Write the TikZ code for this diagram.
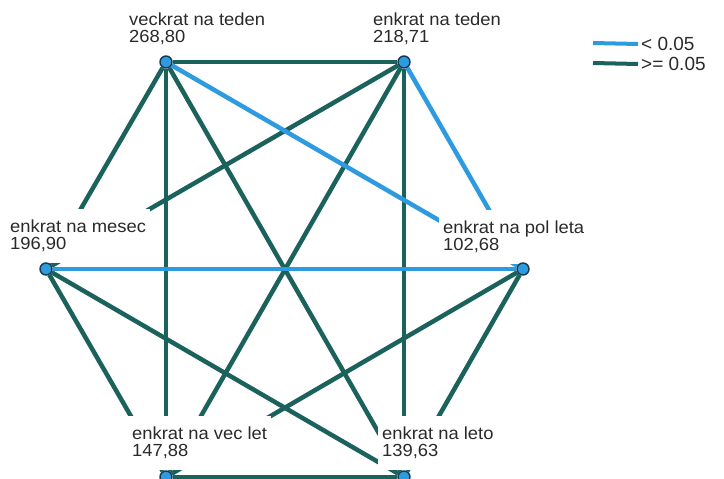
\documentclass[tikz,border=0pt]{standalone}
\usepackage{fontspec}
\setmainfont{Liberation Sans}
\newfontfamily\lblfont[FakeStretch=1.05]{Liberation Sans}
\usetikzlibrary{backgrounds}
\definecolor{ink}{HTML}{2A2A2A}
\definecolor{sigblue}{HTML}{2E9BE0}
\definecolor{nsteal}{HTML}{1B625D}
\definecolor{rim}{HTML}{173A50}
\tikzset{
  dot/.style={circle,fill=sigblue,draw=rim,line width=1.4pt,minimum size=12pt,inner sep=0pt},
  lbl/.style={anchor=north west,fill=white,inner xsep=4pt,inner ysep=11pt,align=left,
              text=ink,font=\lblfont\fontsize{17.5}{17}\selectfont},
  sig/.style={draw=sigblue,line width=4.5pt},
  ns/.style={draw=nsteal,line width=4.5pt},
  keytext/.style={anchor=west,inner xsep=3pt,inner ysep=0pt,text=ink,font=\fontsize{19}{20}\selectfont}
}
\begin{document}
\begin{tikzpicture}[x=1pt,y=-1pt]
  \useasboundingbox (0,0) rectangle (724,479);
  % labels (white boxes hide the line ends)
  \node[lbl] (vtl) at (125,2)   {veckrat na teden\\268,80};
  \node[lbl] (etl) at (369,2)   {enkrat na teden\\218,71};
  \node[lbl] (eml) at (6,209)   {enkrat na mesec\\196,90};
  \node[lbl] (epl) at (439,210) {enkrat na pol leta\\102,68};
  \node[lbl] (evl) at (128,416) {enkrat na vec let\\147,88};
  \node[lbl] (ell) at (378,416) {enkrat na leto\\139,63};
  % groups
  \node[dot] (vt) at (166,62)  {};
  \node[dot] (et) at (404,62)  {};
  \node[dot] (em) at (46,269)  {};
  \node[dot] (ep) at (523,269) {};
  \node[dot] (ev) at (166,477) {};
  \node[dot] (el) at (404,477) {};
  % pairwise comparisons
  \begin{scope}[on background layer]
    \foreach \a/\b in {vt/et,vt/em,vt/ev,vt/el,et/em,et/ev,et/el,em/ev,em/el,ep/ev,ep/el,ev/el}
      \path[ns] (\a) -- (\b);
    \foreach \a in {vt,et,em}
      \path[sig] (\a) -- (ep);
  \end{scope}
  % legend
  \coordinate (k1) at (593,43);
  \coordinate (k2) at (593,63);
  \node[keytext] (k1t) at (638,44) {< 0.05};
  \node[keytext] (k2t) at (638,64) {>= 0.05};
  \draw[sigblue,line width=4pt] (k1) -- (k1t.west);
  \draw[nsteal,line width=4pt] (k2) -- (k2t.west);
\end{tikzpicture}
\end{document}
